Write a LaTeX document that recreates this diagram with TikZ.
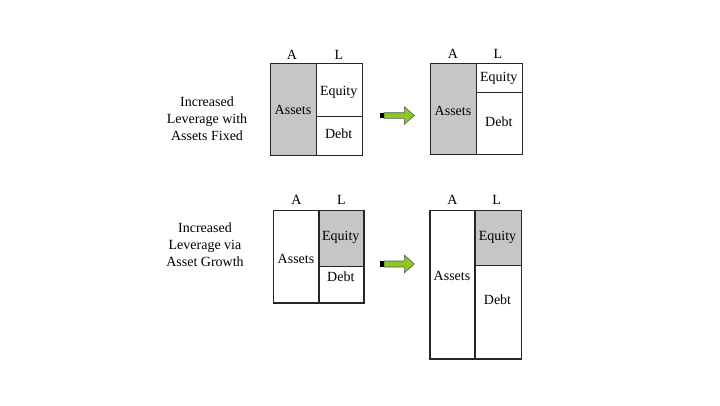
\documentclass[tikz,border=0pt]{standalone}
\usepackage{fontspec}
\setmainfont{Liberation Serif}
\definecolor{shade}{RGB}{198,198,198}
\definecolor{arrowgreen}{RGB}{140,200,30}
\begin{document}
\begin{tikzpicture}[x=1pt,y=-1pt,
  cell/.style={draw=black!85, line width=1.3pt, inner sep=0pt, anchor=north west, fill=white},
  shaded/.style={cell, fill=shade},
  txt/.style={inner sep=0pt, font=\fontsize{14}{16.8}\selectfont},
  side/.style={txt, align=center},
  greenarrow/.style={fill=arrowgreen, draw=black!65, line width=0.6pt, line join=miter},
  tailsq/.style={fill=black}]
\useasboundingbox (0,0) rectangle (720,405);
% ---------- top row ----------
\node[side] (side1) at (207,118.5) {Increased\\Leverage with\\Assets Fixed};
\node[txt] (A1) at (292,55) {A};
\node[txt] (L1) at (339,55) {L};
\node[shaded, minimum width=45.7pt, minimum height=92.3pt] (assets1) at (270,62.7) {};
\node[cell, minimum width=46pt, minimum height=53.3pt] (equity1) at (315.7,62.7) {};
\node[cell, minimum width=46pt, minimum height=39pt] (debt1) at (315.7,116) {};
\node[txt] (tassets1) at (293,110) {Assets};
\node[txt] (tequity1) at (338.7,92) {Equity};
\node[txt] (tdebt1) at (338.7,134) {Debt};

\draw[greenarrow] (384,112.7) -- (404.3,112.7) -- (404.3,106.7) -- (414.3,115.5) -- (404.3,124.3) -- (404.3,118.3) -- (384,118.3) -- cycle;
\fill[tailsq] (380,112.7) rectangle (384,118.3);

\node[txt] (A2) at (453,54) {A};
\node[txt] (L2) at (498,54) {L};
\node[shaded, minimum width=46pt, minimum height=91.3pt] (assets2) at (430,62.7) {};
\node[cell, minimum width=45.7pt, minimum height=29pt] (equity2) at (476,62.7) {};
\node[cell, minimum width=45.7pt, minimum height=62.3pt] (debt2) at (476,91.7) {};
\node[txt] (tassets2) at (453,111) {Assets};
\node[txt] (tequity2) at (498.8,78) {Equity};
\node[txt] (tdebt2) at (498.8,122) {Debt};

% ---------- bottom row ----------
\node[side] (side2) at (205,245) {Increased\\Leverage via\\Asset Growth};
\node[txt] (A3) at (296.5,200) {A};
\node[txt] (L3) at (341.5,200) {L};
\node[cell, minimum width=45.6pt, minimum height=92.3pt] (assets3) at (272.7,210) {};
\node[shaded, minimum width=45pt, minimum height=56pt] (equity3) at (318.3,210) {};
\node[cell, minimum width=45pt, minimum height=36.3pt] (debt3) at (318.3,266) {};
\node[txt] (tassets3) at (296,259) {Assets};
\node[txt] (tequity3) at (340.8,237) {Equity};
\node[txt] (tdebt3) at (340.8,276.7) {Debt};

\draw[greenarrow] (384,261) -- (404.3,261) -- (404.3,255) -- (414.3,264) -- (404.3,272.8) -- (404.3,267) -- (384,267) -- cycle;
\fill[tailsq] (380,261) rectangle (384,267);

\node[txt] (A4) at (452.3,200) {A};
\node[txt] (L4) at (496.7,200) {L};
\node[cell, minimum width=45pt, minimum height=148.3pt] (assets4) at (429.3,210) {};
\node[shaded, minimum width=46.4pt, minimum height=55pt] (equity4) at (474.3,210) {};
\node[cell, minimum width=46.4pt, minimum height=93.3pt] (debt4) at (474.3,265) {};
\node[txt] (tassets4) at (452,275.7) {Assets};
\node[txt] (tequity4) at (497.5,237.3) {Equity};
\node[txt] (tdebt4) at (497.5,300) {Debt};
\end{tikzpicture}
\end{document}
